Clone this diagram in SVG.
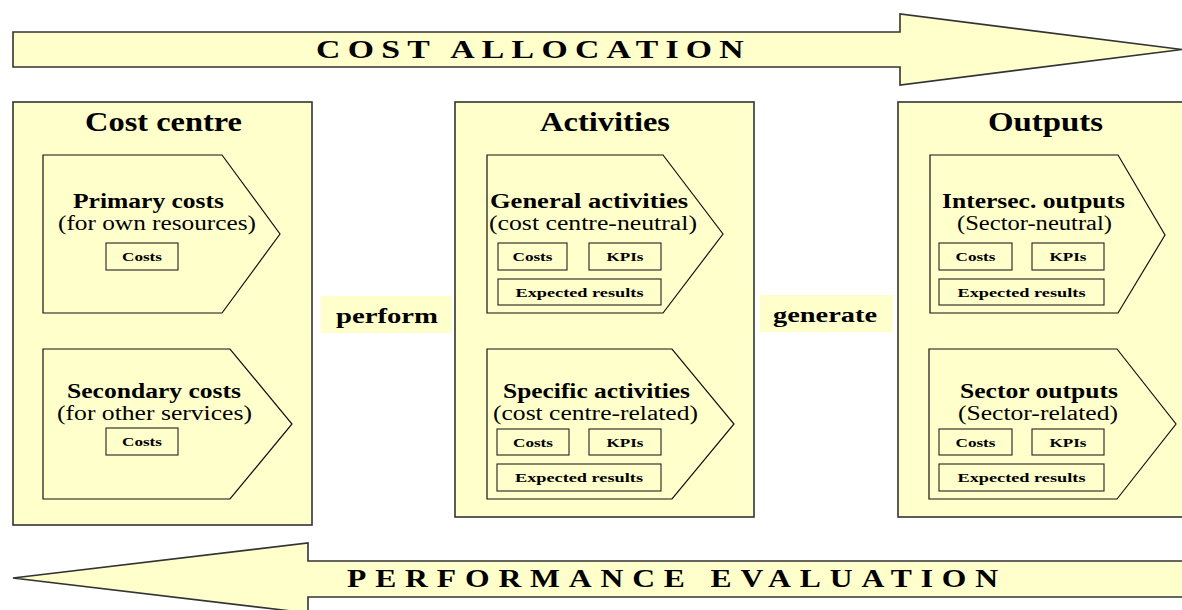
<svg xmlns="http://www.w3.org/2000/svg" width="1182" height="610" viewBox="0 0 1182 610">
<style>
.big{fill:#FFFFCC;stroke:#333333;stroke-width:1.6}
.pent{fill:#FFFFCC;stroke:#111111;stroke-width:1.2}
.sb{fill:#FFFFCC;stroke:#222222;stroke-width:1.1}
.lbl{fill:#FFFFCC;stroke:none}
text{font-family:"Liberation Serif","Times New Roman",serif;fill:#000;text-anchor:middle}
.t1{font-size:27px;font-weight:bold}
.t2{font-size:20px;font-weight:bold}
.t3{font-size:20px}
.t4{font-size:13px;font-weight:bold}
.ban{font-size:26px;font-weight:bold;text-anchor:start}
</style>
<rect width="1182" height="610" fill="#FFFFFF"/>
<g id="connectors">
<g id="cost-allocation">
<path class="big" d="M13,32 H900 V14 L1182,49.5 L900,85 V67 H13 Z"/>
<text class="ban" x="316" y="58" letter-spacing="5.6" textLength="435" lengthAdjust="spacingAndGlyphs">COST ALLOCATION</text>
</g>
<g id="performance-evaluation">
<path class="big" d="M13,578 L308,543 V561 H1190 V597 H308 V613 Z"/>
<text class="ban" x="347" y="587" style="font-size:25px" letter-spacing="7" textLength="660" lengthAdjust="spacingAndGlyphs">PERFORMANCE EVALUATION</text>
</g>
<g id="perform">
<rect class="lbl" x="321" y="296" width="131" height="37"/>
<text class="t2" x="387" y="323" textLength="102" lengthAdjust="spacingAndGlyphs">perform</text>
</g>
<g id="generate">
<rect class="lbl" x="760" y="295" width="133" height="37"/>
<text class="t2" x="825" y="322" textLength="104" lengthAdjust="spacingAndGlyphs">generate</text>
</g>
</g>
<g id="cost-centre">
<rect class="big" x="13" y="102" width="299" height="423"/>
<text class="t1" x="163.5" y="131" textLength="157" lengthAdjust="spacingAndGlyphs">Cost centre</text>
<g id="primary-costs">
<path class="pent" d="M43,155 H222 L280,234 L222,313 H43 Z"/>
<text class="t2" x="148.5" y="208" textLength="151" lengthAdjust="spacingAndGlyphs">Primary costs</text>
<text class="t3" x="157" y="230" textLength="198" lengthAdjust="spacingAndGlyphs">(for own resources)</text>
<rect class="sb" x="106" y="243" width="72" height="27"/>
<text class="t4" x="142" y="261" textLength="40" lengthAdjust="spacingAndGlyphs">Costs</text>
</g>
<g id="secondary-costs">
<path class="pent" d="M43,349 H230 L292,424 L230,499 H43 Z"/>
<text class="t2" x="154" y="398" textLength="174" lengthAdjust="spacingAndGlyphs">Secondary costs</text>
<text class="t3" x="154.5" y="420" textLength="195" lengthAdjust="spacingAndGlyphs">(for other services)</text>
<rect class="sb" x="106" y="428" width="72" height="27"/>
<text class="t4" x="142" y="446" textLength="40" lengthAdjust="spacingAndGlyphs">Costs</text>
</g>
</g>
<g id="activities">
<rect class="big" x="455" y="102" width="299" height="415"/>
<text class="t1" x="605" y="131" textLength="130" lengthAdjust="spacingAndGlyphs">Activities</text>
<g id="general-activities">
<path class="pent" d="M487,155 H663 L723,234 L663,313 H487 Z"/>
<text class="t2" x="589" y="208" textLength="198" lengthAdjust="spacingAndGlyphs">General activities</text>
<text class="t3" x="593" y="230" textLength="208" lengthAdjust="spacingAndGlyphs">(cost centre-neutral)</text>
<rect class="sb" x="498" y="243" width="69" height="27"/>
<text class="t4" x="532.5" y="261" textLength="40" lengthAdjust="spacingAndGlyphs">Costs</text>
<rect class="sb" x="589" y="243" width="72" height="27"/>
<text class="t4" x="625" y="261" textLength="37" lengthAdjust="spacingAndGlyphs">KPIs</text>
<rect class="sb" x="498" y="279" width="163" height="26"/>
<text class="t4" x="579.5" y="297" textLength="128" lengthAdjust="spacingAndGlyphs">Expected results</text>
</g>
<g id="specific-activities">
<path class="pent" d="M487,349 H672 L734,424 L672,499 H487 Z"/>
<text class="t2" x="596.5" y="398" textLength="187" lengthAdjust="spacingAndGlyphs">Specific activities</text>
<text class="t3" x="595.5" y="420" textLength="205" lengthAdjust="spacingAndGlyphs">(cost centre-related)</text>
<rect class="sb" x="497" y="429" width="72" height="26"/>
<text class="t4" x="533" y="447" textLength="40" lengthAdjust="spacingAndGlyphs">Costs</text>
<rect class="sb" x="589" y="429" width="72" height="26"/>
<text class="t4" x="625" y="447" textLength="37" lengthAdjust="spacingAndGlyphs">KPIs</text>
<rect class="sb" x="497" y="464" width="164" height="27"/>
<text class="t4" x="579" y="482" textLength="128" lengthAdjust="spacingAndGlyphs">Expected results</text>
</g>
</g>
<g id="outputs">
<rect class="big" x="898" y="102" width="292" height="415"/>
<text class="t1" x="1045.5" y="131" textLength="115" lengthAdjust="spacingAndGlyphs">Outputs</text>
<g id="intersec-outputs">
<path class="pent" d="M930,155 H1118 L1165,235 L1118,313 H930 Z"/>
<text class="t2" x="1033.5" y="208" textLength="183" lengthAdjust="spacingAndGlyphs">Intersec. outputs</text>
<text class="t3" x="1034.5" y="230" textLength="155" lengthAdjust="spacingAndGlyphs">(Sector-neutral)</text>
<rect class="sb" x="939" y="243" width="73" height="27"/>
<text class="t4" x="975.5" y="261" textLength="40" lengthAdjust="spacingAndGlyphs">Costs</text>
<rect class="sb" x="1032" y="243" width="72" height="27"/>
<text class="t4" x="1068" y="261" textLength="37" lengthAdjust="spacingAndGlyphs">KPIs</text>
<rect class="sb" x="939" y="279" width="165" height="26"/>
<text class="t4" x="1021.5" y="297" textLength="128" lengthAdjust="spacingAndGlyphs">Expected results</text>
</g>
<g id="sector-outputs">
<path class="pent" d="M929,349 H1117 L1176,424 L1117,499 H929 Z"/>
<text class="t2" x="1039" y="398" textLength="158" lengthAdjust="spacingAndGlyphs">Sector outputs</text>
<text class="t3" x="1038" y="420" textLength="160" lengthAdjust="spacingAndGlyphs">(Sector-related)</text>
<rect class="sb" x="939" y="429" width="73" height="26"/>
<text class="t4" x="975.5" y="447" textLength="40" lengthAdjust="spacingAndGlyphs">Costs</text>
<rect class="sb" x="1032" y="429" width="72" height="26"/>
<text class="t4" x="1068" y="447" textLength="37" lengthAdjust="spacingAndGlyphs">KPIs</text>
<rect class="sb" x="939" y="464" width="165" height="27"/>
<text class="t4" x="1021.5" y="482" textLength="128" lengthAdjust="spacingAndGlyphs">Expected results</text>
</g>
</g>
</svg>
